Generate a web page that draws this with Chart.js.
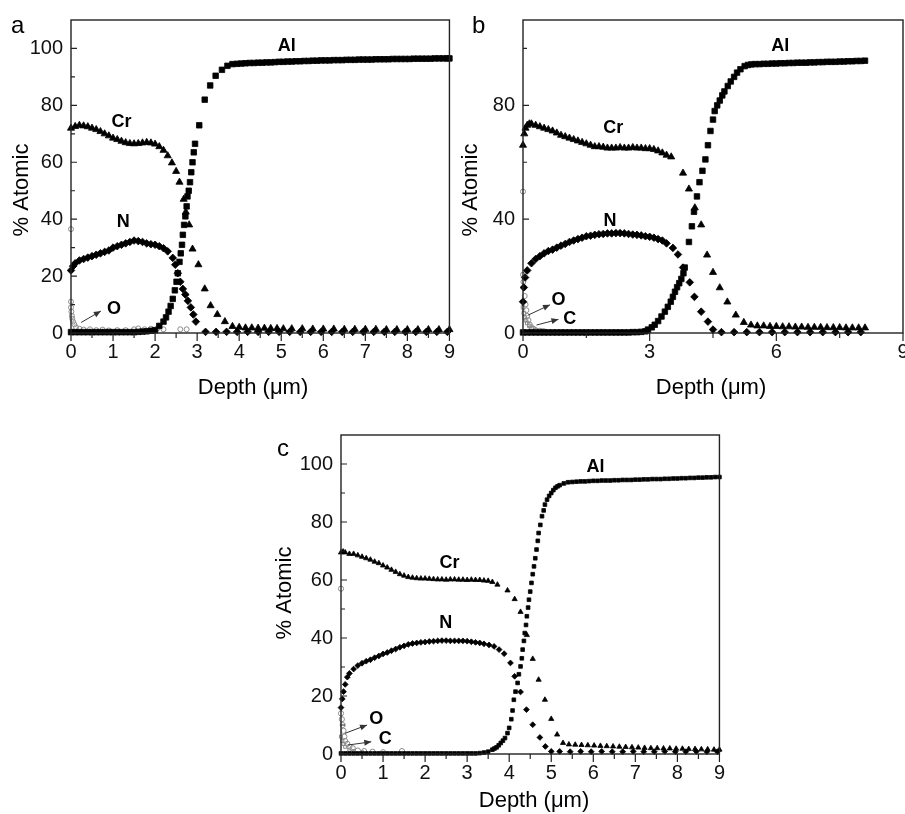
<!DOCTYPE html>
<html><head><meta charset="utf-8">
<script src="https://cdn.jsdelivr.net/npm/chart.js@4.4.1/dist/chart.umd.min.js"></script>
<style>
html,body{margin:0;padding:0;background:#fff;overflow:hidden;width:905px;height:814px;}
canvas{position:absolute;}
#ca{left:0;top:0;}
#cb{left:455px;top:0;}
#cc{left:270px;top:400px;}
</style></head><body>
<canvas id="ca" width="462" height="405"></canvas>
<canvas id="cb" width="462" height="405"></canvas>
<canvas id="cc" width="462" height="414"></canvas>
<script>
// ---------- Panel a ----------
const aXTicks = [0,1,2,3,4,5,6,7,8,9];
const aXMinor = [0.5,1.5,2.5,3.5,4.5,5.5,6.5,7.5,8.5];
const aYTicks = [0,20,40,60,80,100];
const aYMinor = [10,30,50,70,90];

const aCrX = [0,0.1,0.2,0.3,0.4,0.5,0.6,0.7,0.8,0.9,1.0,1.1,1.2,1.3,1.4,1.5,1.6,1.7,1.8,1.9,2.0,2.1,2.2,2.3,2.4,2.5,2.58,2.68,2.73,2.81,2.89,3.03,3.18,3.32,3.48,3.66,3.84,4.0,4.15,4.3,4.45,4.6,4.75,4.9,5.05,5.25,5.5,5.75,6.0,6.25,6.5,6.75,7.0,7.25,7.5,7.75,8.0,8.25,8.5,8.75,9.0];
const aCrY = [72,72.6,73,72.8,72.5,72,71.5,70.8,70,69.3,68.5,68,67.4,66.9,66.6,66.5,66.6,66.8,67,66.8,66.4,65.5,64.2,62.3,59.8,56.8,53,47,42.5,38,29.5,24,15.5,9.6,6.5,4,2.3,2,1.8,1.8,1.7,1.7,1.6,1.6,1.5,1.5,1.5,1.4,1.4,1.4,1.3,1.3,1.3,1.3,1.2,1.2,1.2,1.2,1.2,1.2,1.2];

const aAlX = [0,0.1,0.2,0.3,0.4,0.5,0.6,0.7,0.8,0.9,1.0,1.1,1.2,1.3,1.4,1.5,1.6,1.7,1.8,1.9,2.0,2.1,2.2,2.26,2.32,2.37,2.42,2.47,2.51,2.54,2.58,2.61,2.64,2.66,2.69,2.72,2.75,2.77,2.8,2.83,2.86,2.89,2.92,2.95,3.05,3.18,3.31,3.44,3.59,3.72,3.84,3.95,4.05,4.15,4.25,4.35,4.45,4.55,4.65,4.75,4.85,4.95,5.05,5.15,5.25,5.35,5.45,5.55,5.65,5.75,5.85,5.95,6.05,6.15,6.25,6.35,6.45,6.55,6.65,6.75,6.85,6.95,7.05,7.15,7.25,7.35,7.45,7.55,7.65,7.75,7.85,7.95,8.05,8.15,8.25,8.35,8.45,8.55,8.65,8.75,8.85,8.95,9.0];
const aAlY = [0.3,0.3,0.3,0.3,0.3,0.3,0.3,0.3,0.3,0.3,0.3,0.3,0.3,0.3,0.3,0.3,0.4,0.5,0.6,0.8,1,2.5,4,5.5,7.5,9.5,12,15,18,21,25,28,31,34.5,38,41,44.5,48,50,53,56.5,60,63.5,66.5,73,82,87,90.4,92.5,93.9,94.5,94.6,94.7,94.8,94.9,94.9,95.0,95.0,95.1,95.1,95.2,95.3,95.3,95.4,95.4,95.5,95.5,95.6,95.6,95.7,95.7,95.8,95.8,95.8,95.9,95.9,95.9,96.0,96.0,96.0,96.1,96.1,96.1,96.1,96.2,96.2,96.2,96.2,96.3,96.3,96.3,96.3,96.3,96.4,96.4,96.4,96.4,96.4,96.5,96.5,96.5,96.5,96.5];

const aNX = [0,0.05,0.1,0.2,0.3,0.4,0.5,0.6,0.7,0.8,0.9,1.0,1.1,1.2,1.3,1.4,1.5,1.6,1.7,1.8,1.9,2.0,2.1,2.2,2.3,2.42,2.48,2.54,2.6,2.66,2.72,2.78,2.85,2.91,2.97,3.2,3.45,3.7,3.95,4.2,4.45,4.7,4.95,5.2,5.45,5.7,5.95,6.2,6.45,6.7,6.95,7.2,7.45,7.7,7.95,8.2,8.45,8.7,8.95];
const aNY = [22,23.5,24.5,25.5,26,26.5,27,27.5,28,28.5,29,30,30.5,31,31.5,32,32.5,32.3,32,31.5,31.2,31,30.5,29.8,28.7,26.4,24,21,18,15.5,13.5,11.3,9,6.5,4,0.4,0.4,0.4,0.4,0.4,0.4,0.4,0.4,0.4,0.4,0.4,0.4,0.4,0.4,0.4,0.4,0.4,0.4,0.4,0.4,0.4,0.4,0.4,0.4];

const aOX = [0,0,0,0.01,0.02,0.03,0.05,0.08,0.12,0.2,0.3,0.45,0.6,0.75,0.9,1.1,1.3,1.5,1.6,1.75,1.9,2.05,2.2,2.6,2.75];
const aOY = [36.5,11,9,7.5,6,5,4,3,2,1.5,1.2,1.3,1,1.2,0.9,1,1,1.3,1.6,1.3,1.5,1.6,1.3,1.3,1.3];

// ---------- Panel b ----------
const bXTicks = [0,3,6,9];
const bXMinor = [1.5,4.5,7.5];
const bYTicks = [0,40,80];
const bYMinor = [20,60,100];

const bCrX = [0,0.03,0.06,0.1,0.15,0.2,0.3,0.4,0.5,0.6,0.7,0.8,0.9,1.0,1.1,1.2,1.3,1.4,1.5,1.6,1.7,1.8,1.9,2.0,2.1,2.2,2.3,2.4,2.5,2.6,2.7,2.8,2.9,3.0,3.1,3.2,3.3,3.4,3.51,3.79,3.93,4.07,4.22,4.36,4.5,4.66,4.84,5.04,5.23,5.4,5.55,5.7,5.85,6.0,6.15,6.3,6.45,6.6,6.75,6.9,7.05,7.2,7.35,7.5,7.65,7.8,7.95,8.1];
const bCrY = [66,70,72,73,73.5,73.5,73,72.5,72,71.5,71,70.3,69.5,69,68.5,68,67.5,67,66.5,66,65.5,65.5,65.3,65,65,65,65.2,65,65,65.2,65,65,64.8,64.8,64.5,64,63.3,62.5,61.9,56.2,50.6,44,38,27.4,21.3,15.9,10.9,6.3,3.7,2.8,2.5,2.5,2.3,2.3,2.2,2.2,2.1,2.1,2,2,2,1.9,1.9,1.9,1.8,1.8,1.8,1.8];

const bAlX = [0,0.1,0.2,0.3,0.4,0.5,0.6,0.7,0.8,0.9,1.0,1.1,1.2,1.3,1.4,1.5,1.6,1.7,1.8,1.9,2.0,2.1,2.2,2.3,2.4,2.5,2.6,2.7,2.8,2.9,2.96,3.05,3.12,3.2,3.28,3.36,3.43,3.5,3.55,3.6,3.65,3.7,3.75,3.8,3.83,3.93,4.0,4.05,4.12,4.18,4.25,4.32,4.38,4.44,4.5,4.54,4.6,4.66,4.72,4.77,4.85,4.92,5.0,5.07,5.15,5.25,5.33,5.41,5.5,5.6,5.7,5.8,5.9,6.0,6.1,6.2,6.3,6.4,6.5,6.6,6.7,6.8,6.9,7.0,7.1,7.2,7.3,7.4,7.5,7.6,7.7,7.8,7.9,8.0,8.1];
const bAlY = [0.2,0.2,0.2,0.2,0.2,0.2,0.2,0.2,0.2,0.2,0.2,0.2,0.2,0.2,0.2,0.2,0.2,0.2,0.2,0.2,0.2,0.2,0.2,0.2,0.2,0.2,0.3,0.3,0.4,0.6,1.2,2,2.9,4.2,5.8,7.5,9.2,11,12.7,14.5,16.1,17.5,19,21,23,32,37.5,42.6,48,53,57,61,66,71,75,78,80,81.7,83.5,84.9,86.8,88.4,90,91.5,92.7,93.8,94.2,94.4,94.5,94.5,94.6,94.6,94.7,94.7,94.8,94.8,94.9,94.9,95.0,95.0,95.0,95.1,95.1,95.2,95.2,95.3,95.3,95.3,95.4,95.4,95.5,95.5,95.6,95.6,95.7];

const bNX = [0,0.02,0.05,0.1,0.2,0.3,0.4,0.5,0.6,0.7,0.8,0.9,1.0,1.1,1.2,1.3,1.4,1.5,1.6,1.7,1.8,1.9,2.0,2.1,2.2,2.3,2.4,2.5,2.6,2.7,2.8,2.9,3.0,3.1,3.2,3.3,3.4,3.55,3.67,3.79,3.95,4.06,4.22,4.38,4.5,4.7,5.0,5.3,5.6,5.9,6.2,6.5,6.8,7.1,7.4,7.7,8.0];
const bNY = [11,16,19.5,22,24.5,26,27,28,28.8,29.3,30,30.7,31.3,32,32.5,33,33.5,34,34.2,34.5,34.7,34.8,35,35,35.1,35.1,35,34.8,34.6,34.5,34.3,34,33.8,33.5,33,32.5,31.5,29.9,27.6,23,17.8,12.7,7.5,4,1.2,0.3,0.3,0.3,0.3,0.3,0.3,0.3,0.3,0.3,0.3,0.3,0.3];

const bOX = [0,0,0.01,0.02,0.04,0.06,0.08,0.1,0.13,0.16,0.2,0.25,0.3,0.4,0.5];
const bOY = [49.7,20.5,18,16,13,10,8,6,4.5,3,2,1.5,1,0.8,0.6];
const bCX = [0,0.02,0.04,0.07,0.1,0.15,0.2,0.3,0.45];
const bCY = [9,7,5.5,4.5,3.5,2.5,1.5,1,0.8];

// ---------- Panel c ----------
const cXTicks = [0,1,2,3,4,5,6,7,8,9];
const cXMinor = [0.5,1.5,2.5,3.5,4.5,5.5,6.5,7.5,8.5];
const cYTicks = [0,20,40,60,80,100];
const cYMinor = [10,30,50,70,90];

const cCrX = [0,0.05,0.1,0.2,0.3,0.4,0.5,0.6,0.7,0.8,0.9,1.0,1.1,1.2,1.3,1.4,1.5,1.6,1.7,1.8,1.9,2.0,2.1,2.2,2.3,2.4,2.5,2.6,2.7,2.8,2.9,3.0,3.1,3.2,3.3,3.4,3.5,3.6,3.72,3.96,4.13,4.27,4.42,4.56,4.7,4.85,5.0,5.14,5.28,5.42,5.57,5.72,5.87,6.02,6.17,6.32,6.47,6.62,6.77,6.92,7.07,7.22,7.37,7.52,7.67,7.82,7.97,8.12,8.27,8.42,8.57,8.72,8.87,9.0];
const cCrY = [69.5,69.8,69.5,69,69,68.5,68,67.5,67,66.3,65.8,65,64.3,63.5,62.8,62,61.5,61,60.8,60.6,60.5,60.5,60.4,60.3,60.2,60.2,60.1,60.2,60.2,60.1,60.1,60,60.1,60,60,59.8,59.7,59.3,58.4,56.4,53.4,49,41,32.8,25.6,18.7,12.1,6.7,3.8,3.3,3.2,3.1,3.0,2.9,2.8,2.7,2.6,2.5,2.4,2.3,2.2,2.1,2.0,2.0,1.9,1.9,1.8,1.8,1.7,1.7,1.6,1.6,1.5,1.5];

const cAlX = [0,0.1,0.2,0.3,0.4,0.5,0.6,0.7,0.8,0.9,1.0,1.1,1.2,1.3,1.4,1.5,1.6,1.7,1.8,1.9,2.0,2.1,2.2,2.3,2.4,2.5,2.6,2.7,2.8,2.9,3.0,3.1,3.2,3.3,3.4,3.5,3.6,3.65,3.7,3.75,3.8,3.85,3.9,3.96,4.0,4.05,4.08,4.11,4.15,4.2,4.23,4.27,4.3,4.32,4.35,4.37,4.4,4.42,4.45,4.47,4.5,4.53,4.56,4.59,4.62,4.65,4.68,4.7,4.74,4.78,4.82,4.85,4.9,4.95,5.0,5.05,5.1,5.15,5.2,5.3,5.4,5.5,5.6,5.7,5.8,5.9,6.0,6.1,6.2,6.3,6.4,6.5,6.6,6.7,6.8,6.9,7.0,7.1,7.2,7.3,7.4,7.5,7.6,7.7,7.8,7.9,8.0,8.1,8.2,8.3,8.4,8.5,8.6,8.7,8.8,8.9,9.0];
const cAlY = [0.2,0.2,0.2,0.2,0.2,0.2,0.2,0.2,0.2,0.2,0.2,0.2,0.2,0.2,0.2,0.2,0.2,0.2,0.2,0.2,0.2,0.2,0.2,0.2,0.2,0.2,0.2,0.2,0.2,0.2,0.2,0.2,0.2,0.3,0.5,0.8,1.5,1.9,2.3,3,3.8,4.6,5.5,7.2,9,12,15,18.7,21.5,24.5,27.5,30.2,33,36,39,41.7,44.5,47.5,50.5,53.2,56,59,62,64.7,67.5,70.5,73.5,76.2,79,82,84,86,87.7,89,90,91,91.8,92.3,92.7,93.3,93.7,93.8,93.9,94.0,94.0,94.1,94.2,94.2,94.3,94.3,94.3,94.4,94.4,94.5,94.5,94.5,94.6,94.6,94.7,94.7,94.8,94.8,94.8,94.9,94.9,95.0,95.0,95.1,95.1,95.2,95.2,95.3,95.3,95.4,95.4,95.5,95.5];

const cNX = [0,0.03,0.06,0.1,0.15,0.2,0.3,0.4,0.5,0.6,0.7,0.8,0.9,1.0,1.1,1.2,1.3,1.4,1.5,1.6,1.7,1.8,1.9,2.0,2.1,2.2,2.3,2.4,2.5,2.6,2.7,2.8,2.9,3.0,3.1,3.2,3.3,3.4,3.52,3.64,3.76,3.88,4.03,4.13,4.27,4.41,4.56,4.73,4.86,5.0,5.2,5.45,5.7,5.95,6.2,6.45,6.7,6.95,7.2,7.45,7.7,7.95,8.2,8.45,8.7,8.95];
const cNY = [16,19,21.5,24,26.5,27.8,29.3,30.5,31.3,32,32.5,33.2,33.8,34.5,35,35.6,36.2,36.8,37.3,37.8,38.1,38.3,38.5,38.6,38.8,38.9,39,39.1,39.1,39,39,39,39,38.9,38.7,38.5,38.3,38,37.6,37.1,36,34.6,31.4,26.8,21.4,15.3,10.1,5.7,2.6,0.9,0.9,0.8,0.9,0.8,0.9,0.8,0.8,0.9,0.8,0.8,0.9,0.8,0.8,0.9,0.8,0.8];

const cOX = [0,0,0.02,0.04,0.06,0.08,0.1,0.15,0.2,0.28,0.4,0.55,0.75,1.0,1.45];
const cOY = [57,14,12,10,8,6,4.5,3.5,2.5,2,1.2,1,0.8,0.6,1];
const cCX = [0,0.03,0.06,0.1,0.2,0.3,0.5];
const cCY = [6,4.5,3.5,2.5,1.5,1,0.6];

// ---------- helpers ----------
const FONT = "'Liberation Sans', Arial, Helvetica, sans-serif";
Chart.defaults.font.family = FONT;
Chart.defaults.color = '#111';

function pts(xs, ys) {
  const n = Math.min(xs.length, ys.length), out = [];
  for (let i = 0; i < n; i++) out.push({x: xs[i], y: ys[i]});
  return out;
}
function ds(label, xs, ys, style, r, open) {
  return {
    label, data: pts(xs, ys), showLine: false, clip: false,
    pointStyle: style, pointRadius: r, pointHoverRadius: r,
    pointBackgroundColor: open ? 'rgba(255,255,255,0)' : '#000',
    pointBorderColor: open ? '#8c8c8c' : '#000',
    pointBorderWidth: open ? 1 : 0.8
  };
}
function arrow(ctx, x1, y1, x2, y2) {
  ctx.beginPath(); ctx.moveTo(x1, y1); ctx.lineTo(x2, y2); ctx.stroke();
  const a = Math.atan2(y2 - y1, x2 - x1), L = 7, W = 3;
  ctx.beginPath();
  ctx.moveTo(x2, y2);
  ctx.lineTo(x2 - L*Math.cos(a) + W*Math.sin(a), y2 - L*Math.sin(a) - W*Math.cos(a));
  ctx.lineTo(x2 - L*Math.cos(a) - W*Math.sin(a), y2 - L*Math.sin(a) + W*Math.cos(a));
  ctx.closePath(); ctx.fill();
}
function makeDeco(D) {
  return {
    id: 'deco',
    afterDatasetsDraw(chart) {
      const {ctx, chartArea: ca, scales: {x, y}} = chart;
      ctx.save();
      ctx.strokeStyle = '#222'; ctx.lineWidth = 1.4;
      ctx.strokeRect(ca.left, ca.top, ca.right - ca.left, ca.bottom - ca.top);
      ctx.lineWidth = 1.2;
      ctx.beginPath();
      D.xTicks.forEach(v => { const p = x.getPixelForValue(v); ctx.moveTo(p, ca.bottom); ctx.lineTo(p, ca.bottom + 8); });
      D.xMinor.forEach(v => { const p = x.getPixelForValue(v); ctx.moveTo(p, ca.bottom); ctx.lineTo(p, ca.bottom + 5); });
      D.yTicks.forEach(v => { const p = y.getPixelForValue(v); ctx.moveTo(ca.left, p); ctx.lineTo(ca.left + 6, p); });
      D.yMinor.forEach(v => { const p = y.getPixelForValue(v); ctx.moveTo(ca.left, p); ctx.lineTo(ca.left + 4, p); });
      ctx.stroke();
      ctx.fillStyle = '#000';
      ctx.font = 'bold 18px ' + FONT;
      ctx.textAlign = 'center'; ctx.textBaseline = 'middle';
      D.labels.forEach(l => ctx.fillText(l.t, x.getPixelForValue(l.x), y.getPixelForValue(l.y)));
      ctx.strokeStyle = '#333'; ctx.fillStyle = '#333'; ctx.lineWidth = 1;
      D.arrows.forEach(a => arrow(ctx, x.getPixelForValue(a[0]), y.getPixelForValue(a[1]), x.getPixelForValue(a[2]), y.getPixelForValue(a[3])));
      ctx.fillStyle = '#000';
      ctx.font = '24px ' + FONT;
      ctx.textAlign = 'left'; ctx.textBaseline = 'alphabetic';
      ctx.fillText(D.letter.t, D.letter.x, D.letter.y);
      ctx.font = '22px ' + FONT;
      ctx.textAlign = 'center'; ctx.textBaseline = 'middle';
      ctx.fillText('Depth (\u03bcm)', D.xTitle.x, D.xTitle.y);
      ctx.translate(D.yTitle.x, D.yTitle.y); ctx.rotate(-Math.PI / 2);
      ctx.fillText('% Atomic', 0, 0);
      ctx.restore();
    }
  };
}
function makePanel(id, P) {
  new Chart(document.getElementById(id), {
    type: 'scatter',
    data: {datasets: P.datasets},
    options: {
      responsive: false, animation: false, devicePixelRatio: 1, events: [],
      layout: {autoPadding: false, padding: {top: P.padTop, right: P.padRight, left: 0, bottom: 0}},
      plugins: {legend: {display: false}, tooltip: {enabled: false}},
      scales: {
        x: {type: 'linear', min: 0, max: 9,
            afterFit: s => { s.height = P.xH; },
            afterBuildTicks: s => { s.ticks = P.deco.xTicks.map(v => ({value: v})); },
            grid: {display: false, drawTicks: false}, border: {display: false},
            ticks: {padding: 7, font: {size: 20}, color: '#111', maxRotation: 0, autoSkip: false}},
        y: {type: 'linear', min: 0, max: 110,
            afterFit: s => { s.width = P.yW; },
            afterBuildTicks: s => { s.ticks = P.deco.yTicks.map(v => ({value: v})); },
            grid: {display: false, drawTicks: false}, border: {display: false},
            ticks: {padding: 8, font: {size: 20}, color: '#111', autoSkip: false}}
      }
    },
    plugins: [makeDeco(P.deco)]
  });
}

makePanel('ca', {
  padTop: 14, padRight: 10, xH: 72, yW: 71,
  datasets: [
    ds('Al', aAlX, aAlY, 'rect', 3.9, false),
    ds('Cr', aCrX, aCrY, 'triangle', 4.1, false),
    ds('N', aNX, aNY, 'rectRot', 3.8, false),
    ds('O', aOX, aOY, 'circle', 2.5, true)
  ],
  deco: {
    xTicks: aXTicks, xMinor: aXMinor, yTicks: aYTicks, yMinor: aYMinor,
    letter: {t: 'a', x: 11, y: 33}, xTitle: {x: 253, y: 388}, yTitle: {x: 22, y: 190},
    labels: [{t: 'Al', x: 5.13, y: 101}, {t: 'Cr', x: 1.2, y: 74}, {t: 'N', x: 1.24, y: 39}, {t: 'O', x: 1.02, y: 8.3}],
    arrows: [[0.24, 3.7, 0.71, 7.7]]
  }
});
makePanel('cb', {
  padTop: 14, padRight: 14, xH: 72, yW: 68,
  datasets: [
    ds('Al', bAlX, bAlY, 'rect', 3.9, false),
    ds('Cr', bCrX, bCrY, 'triangle', 4.1, false),
    ds('N', bNX, bNY, 'rectRot', 3.8, false),
    ds('O', bOX, bOY, 'circle', 2.5, true),
    ds('C', bCX, bCY, 'rect', 2.5, true)
  ],
  deco: {
    xTicks: bXTicks, xMinor: bXMinor, yTicks: bYTicks, yMinor: bYMinor,
    letter: {t: 'b', x: 17, y: 33}, xTitle: {x: 256, y: 388}, yTitle: {x: 16, y: 190},
    labels: [{t: 'Al', x: 6.09, y: 100.9}, {t: 'Cr', x: 2.14, y: 72.2}, {t: 'N', x: 2.06, y: 39.5}, {t: 'O', x: 0.84, y: 11.6}, {t: 'C', x: 1.11, y: 5}],
    arrows: [[0.11, 6.2, 0.64, 9.9], [0.32, 2.8, 0.84, 4.8]]
  }
});
makePanel('cc', {
  padTop: 35, padRight: 10, xH: 60, yW: 71,
  datasets: [
    ds('Al', cAlX, cAlY, 'rect', 2.6, false),
    ds('Cr', cCrX, cCrY, 'triangle', 3.0, false),
    ds('N', cNX, cNY, 'rectRot', 2.9, false),
    ds('O', cOX, cOY, 'circle', 2.6, true),
    ds('C', cCX, cCY, 'rect', 2.2, true)
  ],
  deco: {
    xTicks: cXTicks, xMinor: cXMinor, yTicks: cYTicks, yMinor: cYMinor,
    letter: {t: 'c', x: 7, y: 56}, xTitle: {x: 264, y: 401}, yTitle: {x: 15, y: 193},
    labels: [{t: 'Al', x: 6.05, y: 98.8}, {t: 'Cr', x: 2.58, y: 65.7}, {t: 'N', x: 2.49, y: 45}, {t: 'O', x: 0.84, y: 12.2}, {t: 'C', x: 1.05, y: 5}],
    arrows: [[0.09, 7.1, 0.62, 10], [0.17, 3.1, 0.72, 4.2]]
  }
});
</script></body></html>
